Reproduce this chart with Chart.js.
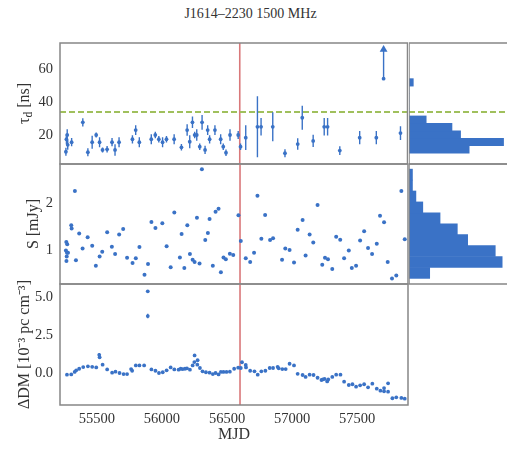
<!DOCTYPE html>
<html>
<head>
<meta charset="utf-8">
<script src="https://cdn.jsdelivr.net/npm/chart.js@4.4.1/dist/chart.umd.min.js"></script>
<style>
  html, body { margin: 0; padding: 0; background: #ffffff; }
  #wrap { position: relative; width: 507px; height: 450px; overflow: hidden; }
  #wrap canvas { position: absolute; }
  #title { position: absolute; left: -3px; width: 507px; top: 6px; line-height: 16px;
           text-align: center; font: 14px "Liberation Serif", "Times New Roman", serif; color: #333; }
</style>
</head>
<body>
<div id="wrap">
  <div id="title">J1614–2230 1500 MHz</div>
  <canvas id="cTau"  width="412" height="157" style="left:0;top:25px"></canvas>
  <canvas id="cFlux" width="412" height="156" style="left:0;top:146px"></canvas>
  <canvas id="cDm"   width="412" height="184" style="left:0;top:266px"></canvas>
  <canvas id="hTau"  width="98"  height="157" style="left:409px;top:25px"></canvas>
  <canvas id="hFlux" width="98"  height="156" style="left:409px;top:146px"></canvas>
</div>
<script>
// ---- scattering timescale tau_d [ns] with 1-sigma errors ----
const tauMjd = [
  55262, 55266, 55272, 55276, 55306, 55392, 55431, 55464, 55495, 55521,
  55544, 55579, 55617, 55640, 55671, 55774, 55799, 55827, 55919, 55950,
  55977, 56006, 56036, 56095, 56151, 56195, 56215, 56236, 56253, 56269,
  56292, 56310, 56333, 56353, 56368, 56409, 56453, 56473, 56494, 56525,
  56588, 56606, 56646, 56736, 56764, 56854, 56948, 57046, 57081, 57165,
  57250, 57276, 57370, 57523, 57651, 57837];
const tauVal = [
  9.8, 17.4, 20.0, 14.0, 15.6, 27.7, 9.5, 15.6, 20.0, 15.6,
  10.9, 11.3, 15.6, 10.9, 15.6, 17.4, 23.0, 15.6, 17.4, 20.0,
  17.4, 15.6, 17.4, 17.4, 12.5, 23.0, 15.9, 27.7, 20.0, 20.0,
  12.9, 27.7, 10.9, 23.0, 17.4, 23.0, 17.4, 12.9, 9.2, 20.0,
  20.0, 12.9, 18.4, 25.0, 25.0, 25.0, 8.9, 14.5, 30.5, 16.4,
  25.0, 25.0, 10.5, 18.4, 18.4, 21.2];
const tauErr = [
  2.5, 3.0, 3.5, 3.0, 2.5, 2.5, 2.5, 4.0, 1.5, 3.0,
  1.5, 2.0, 2.5, 3.5, 3.0, 2.5, 3.0, 3.0, 3.0, 2.0,
  2.0, 3.0, 2.0, 3.0, 2.0, 3.5, 4.0, 3.5, 2.0, 3.5,
  2.0, 4.5, 2.5, 3.0, 2.5, 3.0, 3.0, 2.0, 2.0, 3.5,
  2.5, 2.0, 7.6, 18.6, 5.3, 8.8, 2.5, 3.5, 7.3, 3.7,
  5.3, 5.3, 2.7, 4.0, 4.0, 4.2];
// lower limit (arrow) epoch
const tauLimitMjd = [57707];
const tauLimitVal = [54.3];
const tauLimitArrowTo = [72.0];
const tauThreshold = 34.0;

// ---- flux density S [mJy] ----
const fluxMjd = [
  55262, 55265, 55266, 55268, 55270, 55272, 55278, 55303, 55306, 55331,
  55339, 55364, 55390, 55429, 55464, 55492, 55521, 55541, 55579, 55615,
  55640, 55671, 55702, 55732, 55774, 55799, 55827, 55866, 55893, 55919,
  55950, 56003, 56036, 56067, 56095, 56138, 56151, 56172, 56195, 56215,
  56236, 56251, 56269, 56289, 56307, 56333, 56353, 56366, 56391, 56412,
  56435, 56453, 56473, 56491, 56522, 56548, 56588, 56606, 56644, 56678,
  56708, 56734, 56764, 56793, 56831, 56854, 56923, 56948, 56981, 57015,
  57043, 57081, 57104, 57135, 57163, 57196, 57232, 57253, 57276, 57309,
  57339, 57370, 57400, 57436, 57459, 57492, 57523, 57554, 57584, 57615,
  57651, 57676, 57707, 57735, 57768, 57801, 57840, 57866];
const fluxVal = [
  0.99, 1.17, 0.76, 0.86, 0.94, 1.12, 0.94, 1.53, 1.46, 2.26,
  0.78, 1.35, 1.03, 1.27, 1.09, 0.66, 0.86, 0.96, 1.38, 1.07,
  0.91, 1.33, 1.45, 0.83, 0.72, 0.82, 1.06, 0.47, 0.70, 1.60,
  1.47, 1.57, 1.08, 0.63, 1.80, 0.84, 1.34, 0.61, 1.53, 0.91,
  0.79, 0.74, 1.69, 0.71, 2.73, 1.21, 1.36, 1.66, 0.66, 1.82,
  1.88, 0.52, 0.84, 0.80, 0.92, 0.89, 1.74, 1.19, 0.82, 0.74,
  0.94, 2.16, 1.24, 1.75, 1.21, 1.25, 0.79, 1.03, 1.00, 0.73,
  1.43, 1.64, 0.88, 1.33, 1.16, 1.96, 0.68, 0.83, 0.80, 0.59,
  1.28, 1.22, 0.82, 0.99, 0.61, 0.66, 1.20, 1.40, 1.04, 0.91,
  1.13, 1.73, 1.59, 0.74, 0.39, 0.45, 2.26, 1.23];

// ---- DM variations [1e-3 pc cm^-3] ----
const dmMjd = [
  55270, 55303, 55329, 55341, 55364, 55395, 55431, 55464, 55495, 55518,
  55521, 55544, 55579, 55617, 55643, 55674, 55705, 55732, 55763, 55771,
  55799, 55827, 55863, 55891, 55891, 55919, 55950, 55977, 56006, 56036,
  56067, 56095, 56128, 56144, 56159, 56177, 56192, 56215, 56236, 56249,
  56251, 56272, 56274, 56292, 56312, 56338, 56366, 56391, 56412, 56435,
  56453, 56473, 56496, 56522, 56555, 56586, 56606, 56615, 56644, 56646,
  56678, 56711, 56736, 56764, 56795, 56828, 56854, 56889, 56897, 56925,
  56951, 56981, 57015, 57043, 57081, 57104, 57135, 57165, 57196, 57226,
  57237, 57250, 57270, 57278, 57309, 57339, 57372, 57400, 57436, 57464,
  57492, 57523, 57554, 57584, 57617, 57651, 57679, 57707, 57707, 57738,
  57738, 57771, 57801, 57840, 57866];
const dmVal = [
  -0.13, -0.11, 0.05, 0.16, 0.26, 0.37, 0.42, 0.39, 0.35, 1.18,
  1.01, 0.53, 0.22, 0.00, 0.07, -0.02, -0.09, -0.09, 0.24, 0.13,
  0.48, 0.48, 0.48, 5.36, 3.73, 0.22, 0.13, -0.02, 0.03, 0.16,
  0.35, 0.22, 0.20, 0.26, 0.24, 0.26, 0.29, 0.20, 0.48, 0.70,
  1.14, 0.53, 0.82, 0.31, 0.09, 0.03, 0.00, -0.09, -0.02, -0.11,
  0.05, 0.05, 0.05, 0.07, 0.26, 0.33, 0.31, 0.69, 0.51, 0.35,
  0.13, 0.09, -0.13, 0.09, 0.13, 0.31, 0.31, 0.39, 0.29, 0.24,
  0.24, 0.59, 0.48, -0.07, -0.15, -0.28, -0.13, -0.15, -0.33, -0.48,
  -0.44, -0.41, -0.57, -0.44, -0.28, -0.13, -0.13, -0.59, -0.81, -0.76,
  -0.92, -0.83, -0.76, -0.96, -0.72, -1.05, -1.18, -1.01, -1.22, -0.70,
  -1.25, -1.68, -1.62, -1.66, -1.71];
const dmErr = [
  0.04, 0.04, 0.04, 0.04, 0.04, 0.04, 0.04, 0.04, 0.04, 0.12,
  0.10, 0.04, 0.04, 0.04, 0.04, 0.04, 0.04, 0.04, 0.04, 0.04,
  0.04, 0.04, 0.04, 0.08, 0.15, 0.04, 0.04, 0.04, 0.04, 0.04,
  0.04, 0.04, 0.04, 0.04, 0.04, 0.04, 0.04, 0.04, 0.04, 0.06,
  0.10, 0.04, 0.08, 0.04, 0.04, 0.04, 0.04, 0.04, 0.04, 0.04,
  0.04, 0.04, 0.04, 0.04, 0.04, 0.04, 0.04, 0.06, 0.06, 0.04,
  0.04, 0.04, 0.04, 0.04, 0.04, 0.04, 0.04, 0.04, 0.04, 0.04,
  0.04, 0.04, 0.04, 0.04, 0.04, 0.04, 0.04, 0.04, 0.04, 0.04,
  0.04, 0.04, 0.04, 0.04, 0.04, 0.04, 0.04, 0.04, 0.04, 0.04,
  0.04, 0.04, 0.04, 0.04, 0.04, 0.04, 0.04, 0.04, 0.04, 0.04,
  0.04, 0.04, 0.04, 0.04, 0.04];

// ---- marginal histograms (bin edges and counts) ----
const tauHistEdges = [8.9, 13.44, 17.98, 22.52, 27.06, 31.6, 36.14, 40.68, 45.22, 49.76, 54.3];
const tauHistCounts = [14, 22, 12, 10, 4, 0, 0, 0, 0, 1];
const fluxHistEdges = [0.39, 0.624, 0.858, 1.092, 1.326, 1.56, 1.794, 2.028, 2.262, 2.496, 2.73];
const fluxHistCounts = [6, 27, 25, 17, 14, 9, 4, 2, 1, 1];

// ---- axes ----
const mjdTicks = [55500, 56000, 56500, 57000, 57500];
const tauTicks = [20, 40, 60];
const fluxTicks = [1, 2];
const dmTicks = [0, 2.5, 5];
const eventMjd = 56600;

const X_RANGE = [55216.5, 57891];
const TAU_RANGE = [2.35, 76];
const FLUX_RANGE = [0.27, 2.84];
const DM_RANGE = [-2.125, 5.84];
const TAU_HIST_MAX = 22.8;
const FLUX_HIST_MAX = 28.4;

// ---- styling ----
const BLUE = '#3a72c6';
const RED = '#d9787a';
const GREEN = '#a0c05c';
const FRAME = '#878787';
const TEXT = '#333333';
const SERIF = '"Liberation Serif", "Times New Roman", serif';
const PAD = 18;   // room around each plotting area for tick-label overhang

Chart.defaults.font.family = SERIF;
Chart.defaults.font.size = 14.5;
Chart.defaults.color = TEXT;
Chart.defaults.animation = false;
Chart.defaults.plugins.legend.display = false;
Chart.defaults.plugins.tooltip.enabled = false;

function points(xs, ys) {
  return xs.map((x, i) => ({ x, y: ys[i] }));
}
// vertical error segments separated by gaps
function errorSegments(xs, ys, es) {
  const out = [];
  xs.forEach((x, i) => {
    out.push({ x, y: ys[i] - es[i] }, { x, y: ys[i] + es[i] }, { x, y: null });
  });
  return out;
}
function histBars(edges, counts) {
  return counts.map((c, i) => ({ x: c, y: (edges[i] + edges[i + 1]) / 2 }));
}
function fixedTicks(list) {
  return (scale) => { scale.ticks = list.map(v => ({ value: v })); };
}

// box around the plotting area
const framePlugin = {
  id: 'frame',
  afterDraw(chart, args, opts) {
    const { ctx, chartArea: a } = chart;
    const sides = opts.sides || 'trbl';
    ctx.save();
    ctx.strokeStyle = FRAME;
    ctx.lineWidth = 1.5;
    ctx.lineCap = 'square';
    ctx.beginPath();
    if (sides.includes('t')) { ctx.moveTo(a.left, a.top); ctx.lineTo(a.right, a.top); }
    if (sides.includes('r')) { ctx.moveTo(a.right, a.top); ctx.lineTo(a.right, a.bottom); }
    if (sides.includes('b')) { ctx.moveTo(a.left, a.bottom); ctx.lineTo(a.right, a.bottom); }
    if (sides.includes('l')) { ctx.moveTo(a.left, a.top); ctx.lineTo(a.left, a.bottom); }
    ctx.stroke();
    ctx.restore();
  }
};

// event epoch (vertical) and threshold (horizontal dashed)
const refLinesPlugin = {
  id: 'refLines',
  beforeDatasetsDraw(chart, args, opts) {
    const { ctx, chartArea: a, scales } = chart;
    ctx.save();
    ctx.beginPath();
    ctx.rect(a.left, a.top, a.right - a.left, a.bottom - a.top);
    ctx.clip();
    if (opts.vx !== undefined) {
      const px = scales.x.getPixelForValue(opts.vx);
      ctx.strokeStyle = RED;
      ctx.lineWidth = 1.6;
      ctx.beginPath();
      ctx.moveTo(px, a.top);
      ctx.lineTo(px, a.bottom);
      ctx.stroke();
    }
    if (opts.hy !== undefined) {
      const py = scales.y.getPixelForValue(opts.hy);
      ctx.strokeStyle = GREEN;
      ctx.lineWidth = 1.8;
      ctx.setLineDash([6, 3]);
      ctx.beginPath();
      ctx.moveTo(a.left, py);
      ctx.lineTo(a.right, py);
      ctx.stroke();
    }
    ctx.restore();
  }
};

// y label with subscript: tau_d [ns]
const tauLabelPlugin = {
  id: 'tauLabel',
  afterDraw(chart) {
    const s = chart.scales.y;
    const ctx = chart.ctx;
    const cx = s.left + 25;
    const cy = (s.top + s.bottom) / 2;
    const big = '16px ' + SERIF;
    const small = '11.5px ' + SERIF;
    ctx.save();
    ctx.translate(cx, cy);
    ctx.rotate(-Math.PI / 2);
    ctx.fillStyle = TEXT;
    ctx.textBaseline = 'middle';
    ctx.textAlign = 'left';
    ctx.font = big;
    const w1 = ctx.measureText('τ').width;
    const w3 = ctx.measureText(' [ns]').width;
    ctx.font = small;
    const w2 = ctx.measureText('d').width;
    let x = -(w1 + w2 + w3) / 2;
    ctx.font = big; ctx.fillText('τ', x, 0); x += w1;
    ctx.font = small; ctx.fillText('d', x, 4); x += w2;
    ctx.font = big; ctx.fillText(' [ns]', x, 0);
    ctx.restore();
  }
};

function xScale(show) {
  const cfg = {
    type: 'linear', min: X_RANGE[0], max: X_RANGE[1], display: show,
    grid: { display: false, drawTicks: false },
    border: { display: false },
    afterBuildTicks: fixedTicks(mjdTicks),
    ticks: { padding: 5, maxRotation: 0, autoSkip: false, callback: v => String(v) }
  };
  if (show) {
    cfg.title = { display: true, text: 'MJD', font: { size: 16 }, padding: { top: 0, bottom: 6 } };
    cfg.afterFit = (s) => { s.height = 45; };
  }
  return cfg;
}
function yScale(range, ticks, fmt, title, titlePad) {
  const cfg = {
    type: 'linear', min: range[0], max: range[1],
    grid: { display: false, drawTicks: false },
    border: { display: false },
    afterBuildTicks: fixedTicks(ticks),
    ticks: { padding: 7, callback: fmt },
    afterFit: (s) => { s.width = 60; }
  };
  if (title) {
    cfg.title = { display: true, text: title, font: { size: 16 }, padding: { top: titlePad, bottom: 0 } };
  }
  return cfg;
}

// ---- scattering timescale panel ----
new Chart(document.getElementById('cTau'), {
  type: 'scatter',
  data: {
    datasets: [
      { data: points(tauMjd, tauVal), pointRadius: 1.9, pointBorderWidth: 0, backgroundColor: BLUE },
      { data: errorSegments(tauMjd, tauVal, tauErr), showLine: true, spanGaps: false,
        pointRadius: 0, borderColor: BLUE, borderWidth: 1.4 },
      { data: [{ x: tauLimitMjd[0], y: tauLimitVal[0] }, { x: tauLimitMjd[0], y: tauLimitArrowTo[0] }],
        showLine: true, borderColor: BLUE, borderWidth: 1.4, backgroundColor: BLUE, pointBorderWidth: 0,
        pointStyle: (c) => c.dataIndex === 1 ? 'triangle' : 'circle',
        pointRadius: (c) => c.dataIndex === 1 ? 4.5 : 1.9 }
    ]
  },
  options: {
    responsive: false,
    layout: { padding: { top: PAD, bottom: PAD, left: 0, right: 3 } },
    scales: {
      x: xScale(false),
      y: yScale(TAU_RANGE, tauTicks, v => String(v), null, 0)
    },
    plugins: { frame: { sides: 'trbl' }, refLines: { vx: eventMjd, hy: tauThreshold } }
  },
  plugins: [framePlugin, refLinesPlugin, tauLabelPlugin]
});

// ---- flux density panel ----
new Chart(document.getElementById('cFlux'), {
  type: 'scatter',
  data: {
    datasets: [
      { data: points(fluxMjd, fluxVal), pointRadius: 2.0, pointBorderWidth: 0, backgroundColor: BLUE }
    ]
  },
  options: {
    responsive: false,
    layout: { padding: { top: PAD, bottom: PAD, left: 0, right: 3 } },
    scales: {
      x: xScale(false),
      y: yScale(FLUX_RANGE, fluxTicks, v => String(v), 'S [mJy]', 24.4)
    },
    plugins: { frame: { sides: 'trbl' }, refLines: { vx: eventMjd } }
  },
  plugins: [framePlugin, refLinesPlugin]
});

// ---- DM panel ----
new Chart(document.getElementById('cDm'), {
  type: 'scatter',
  data: {
    datasets: [
      { data: points(dmMjd, dmVal), pointRadius: 1.9, pointBorderWidth: 0, backgroundColor: BLUE },
      { data: errorSegments(dmMjd, dmVal, dmErr), showLine: true, spanGaps: false,
        pointRadius: 0, borderColor: BLUE, borderWidth: 1.4 }
    ]
  },
  options: {
    responsive: false,
    layout: { padding: { top: PAD, bottom: 0, left: 0, right: 3 } },
    scales: {
      x: xScale(true),
      y: yScale(DM_RANGE, dmTicks, v => v.toFixed(1), 'ΔDM [10⁻³ pc cm⁻³]', 15.4)
    },
    plugins: { frame: { sides: 'trbl' }, refLines: { vx: eventMjd } }
  },
  plugins: [framePlugin, refLinesPlugin]
});

// ---- marginal histograms ----
function histChart(id, edges, counts, range, countMax, lines) {
  return new Chart(document.getElementById(id), {
    type: 'bar',
    data: {
      datasets: [{
        data: histBars(edges, counts), backgroundColor: BLUE, borderWidth: 0,
        categoryPercentage: 1, barPercentage: 1
      }]
    },
    options: {
      responsive: false,
      indexAxis: 'y',
      layout: { padding: { top: PAD, bottom: PAD, left: 0, right: 0 } },
      scales: {
        y: { type: 'linear', display: false, offset: false, min: range[0], max: range[1],
             afterBuildTicks: (s) => { s.ticks = [{ value: s.min }, { value: s.max }]; } },
        x: { type: 'linear', display: false, min: 0, max: countMax }
      },
      plugins: { frame: { sides: 'tlb' }, refLines: lines }
    },
    plugins: [framePlugin, refLinesPlugin]
  });
}
histChart('hTau', tauHistEdges, tauHistCounts, TAU_RANGE, TAU_HIST_MAX, { hy: tauThreshold });
histChart('hFlux', fluxHistEdges, fluxHistCounts, FLUX_RANGE, FLUX_HIST_MAX, {});
</script>
</body>
</html>
